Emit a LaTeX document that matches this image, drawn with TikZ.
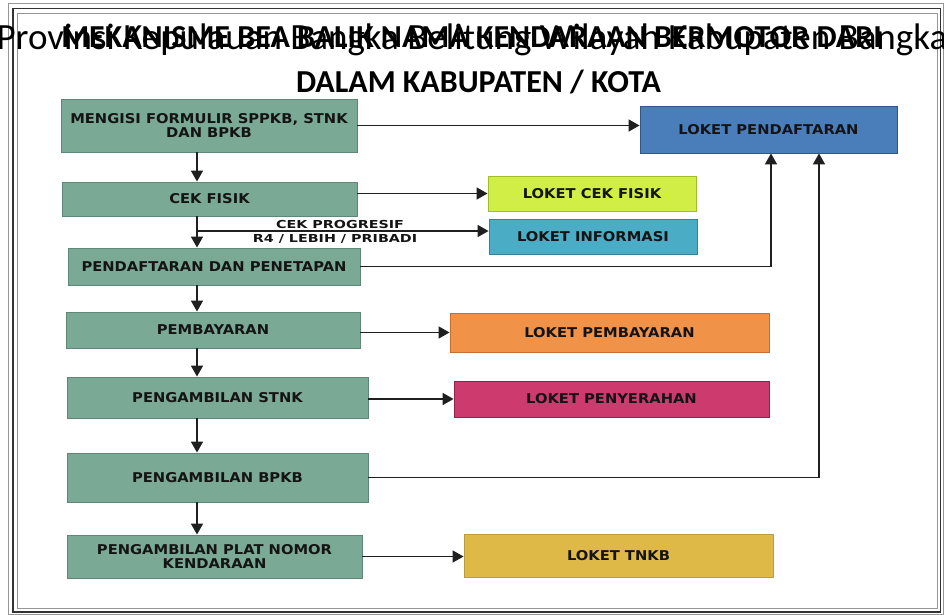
\documentclass[tikz,border=0pt]{standalone}
\usepackage{fontspec}
\setmainfont{Carlito}
\newfontfamily\boxfont{DejaVu Sans}[FakeStretch=1.09]
\newfontfamily\lblfont{DejaVu Sans}[FakeStretch=1.3]
\usetikzlibrary{arrows.meta,calc}
\definecolor{mteal}{RGB}{122,170,150}
\definecolor{mtealb}{RGB}{95,135,118}
\definecolor{mblue}{RGB}{74,126,187}
\definecolor{mblueb}{RGB}{50,85,140}
\definecolor{mlime}{RGB}{208,238,70}
\definecolor{mlimeb}{RGB}{160,190,40}
\definecolor{mcyan}{RGB}{75,172,198}
\definecolor{mcyanb}{RGB}{50,130,160}
\definecolor{morange}{RGB}{240,146,72}
\definecolor{morangeb}{RGB}{200,110,50}
\definecolor{mmag}{RGB}{204,58,110}
\definecolor{mmagb}{RGB}{150,30,75}
\definecolor{mgold}{RGB}{222,185,72}
\definecolor{mgoldb}{RGB}{190,155,60}
\definecolor{mtxt}{RGB}{20,20,20}
\definecolor{mframe}{RGB}{150,150,150}
\begin{document}
\begin{tikzpicture}[x=1pt,y=-1pt,
  bx/.style={line width=0.9pt, inner sep=0pt, text=mtxt, align=center,
    font={\boxfont\bfseries\fontsize{13.5pt}{13.5pt}\selectfont}},
  lbox/.style={bx, draw=mtealb, fill=mteal},
  arr/.style={line width=1.7pt, draw=black!88, -{Triangle[length=11pt,width=12pt]}},
  lbl/.style={inner sep=0pt, text=mtxt, font={\lblfont\bfseries\fontsize{11pt}{11pt}\selectfont}}]
\useasboundingbox (0,0) rectangle (944,615);
\fill[white] (0,0) rectangle (944,615);
% frame
\draw[mframe, line width=0.8pt] (8,3.5) rectangle (943,614.5);
\draw[black!80, line width=1.4pt] (13,8.5) rectangle (940.5,612);
\draw[mframe, line width=0.8pt] (17.5,13) rectangle (937,608);
% titles
\node[font={\fontsize{37pt}{40pt}\selectfont}, anchor=base, inner sep=0pt] (prov) at (472,50) {Provinsi Kepulauan Bangka Belitung Wilayah Kabupaten Bangka};
\node[font={\bfseries\fontsize{32pt}{36pt}\selectfont}, anchor=base, inner sep=0pt] (tt1) at (471.5,48) {MEKANISME BEA BALIK NAMA KENDARAAN BERMOTOR DARI};
\node[font={\bfseries\fontsize{32pt}{36pt}\selectfont}, anchor=base, inner sep=0pt] (tt2) at (478.5,93) {DALAM KABUPATEN / KOTA};
% left boxes
\node[lbox, minimum width=296pt, minimum height=53pt] (m1) at (209,125.5) {MENGISI FORMULIR SPPKB, STNK\\DAN BPKB};
\node[lbox, minimum width=295pt, minimum height=34pt] (m2) at (209.5,199) {CEK FISIK};
\node[lbox, minimum width=292pt, minimum height=37pt] (m3) at (214,266.5) {PENDAFTARAN DAN PENETAPAN};
\node[lbox, minimum width=294pt, minimum height=36pt] (m4) at (213,330) {PEMBAYARAN};
\node[lbox, minimum width=301pt, minimum height=41pt] (m5) at (217.5,397.5) {PENGAMBILAN STNK};
\node[lbox, minimum width=301pt, minimum height=49pt] (m6) at (217.5,477.5) {PENGAMBILAN BPKB};
\node[lbox, minimum width=295pt, minimum height=43pt] (m7) at (214.5,556.5) {PENGAMBILAN PLAT NOMOR\\KENDARAAN};
% right boxes
\node[bx, draw=mblueb, fill=mblue, minimum width=257pt, minimum height=47pt] (r1) at (768.5,129.5) {LOKET PENDAFTARAN};
\node[bx, draw=mlimeb, fill=mlime, minimum width=208pt, minimum height=35pt] (r2) at (592,193.5) {LOKET CEK FISIK};
\node[bx, draw=mcyanb, fill=mcyan, minimum width=208pt, minimum height=35pt] (r3) at (593,236.5) {LOKET INFORMASI};
\node[bx, draw=morangeb, fill=morange, minimum width=319pt, minimum height=39pt] (r4) at (609.5,332.5) {LOKET PEMBAYARAN};
\node[bx, draw=mmagb, fill=mmag, minimum width=315pt, minimum height=36pt] (r5) at (611.5,399) {LOKET PENYERAHAN};
\node[bx, draw=mgoldb, fill=mgold, minimum width=309pt, minimum height=43pt] (r6) at (618.5,555.5) {LOKET TNKB};
% labels
\node[lbl, anchor=base] (lp1) at (340,228.5) {CEK PROGRESIF};
\node[lbl, anchor=base] (lp2) at (335,242.5) {R4 / LEBIH / PRIBADI};
% vertical arrows
\coordinate (xc) at (197,0);
\coordinate (cp) at (197,231);
\draw[arr] (m1.south -| xc) -- (m2.north -| xc);
\draw[arr] (m2.south -| xc) -- (m3.north -| xc);
\draw[arr] (m3.south -| xc) -- (m4.north -| xc);
\draw[arr] (m4.south -| xc) -- (m5.north -| xc);
\draw[arr] (m5.south -| xc) -- (m6.north -| xc);
\draw[arr] (m6.south -| xc) -- (m7.north -| xc);
% horizontal arrows
\draw[arr] (m1.east) -- (r1.west |- m1.east);
\draw[arr] (m2.east |- r2.west) -- (r2.west);
\draw[arr] (cp) -- (r3.west |- cp);
\draw[arr] (m3.east) -| ([xshift=2.5pt]r1.south);
\draw[arr] (m4.east |- r4.west) -- (r4.west);
\draw[arr] (m5.east |- r5.west) -- (r5.west);
\draw[arr] (m6.east) -| ([xshift=50.5pt]r1.south);
\draw[arr] (m7.east) -- (r6.west |- m7.east);
\end{tikzpicture}
\end{document}
